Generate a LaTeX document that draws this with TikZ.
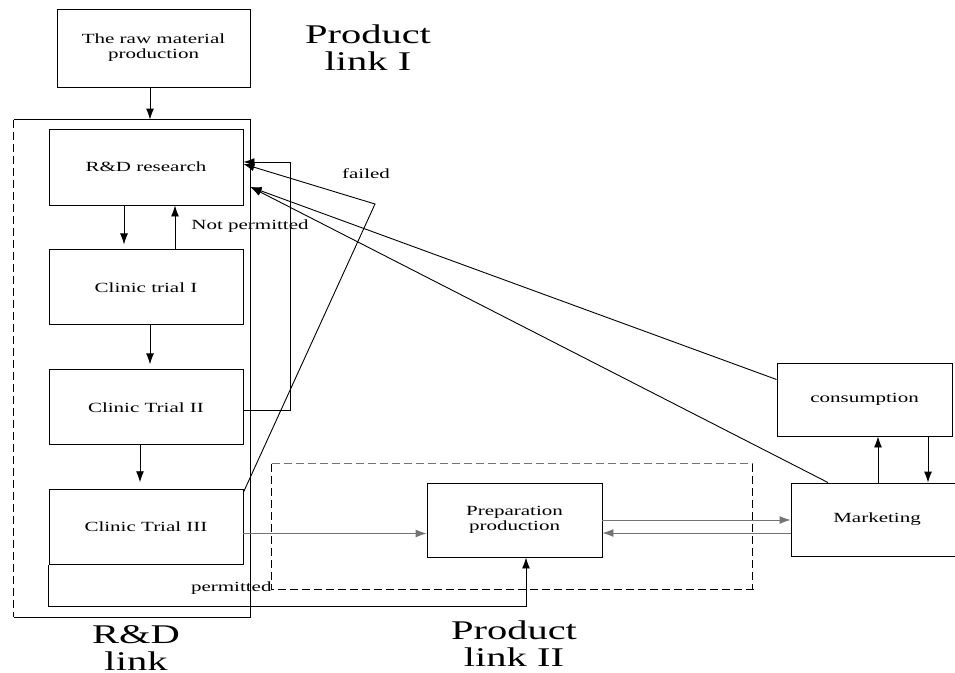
\documentclass[tikz,border=0pt]{standalone}
\usepackage{fontspec}
\setmainfont{Liberation Serif}[FakeStretch=1.5]
\usetikzlibrary{positioning,arrows.meta}
\begin{document}
\begin{tikzpicture}[x=1pt,y=-1pt,>={Latex[length=11pt,width=8pt]},line width=0.9pt,
    box/.style={draw,rectangle,inner sep=0pt,minimum width=194pt,minimum height=75pt,align=center,font=\fontsize{14}{15}\selectfont},
    frame/.style={rectangle,inner sep=0pt},
    link/.style={inner sep=0pt,anchor=north,align=center,font=\fontsize{27}{27}\selectfont},
    note/.style={inner sep=1pt,font=\fontsize{14}{15}\selectfont},
    dim/.style={draw=black!55},
    dashline/.style={dash pattern=on 8pt off 4pt},
    node distance=44pt]
    \useasboundingbox (0,0) rectangle (955,672);
    \node [frame,minimum width=236pt,minimum height=497pt] (rdframe) at (132,368.5) {};
    \node [frame,minimum width=480pt,minimum height=125pt] (prodframe) at (512,526.5) {};
    \node [box,minimum width=193pt,minimum height=78pt] (raw) at (153.5,48) {The raw material\\production};
    \node [box,minimum height=76pt] (rd) at (146,167) {R\&D research};
    \node [box,below=of rd] (ct1) {Clinic trial I};
    \node [box,below=of ct1] (ct2) {Clinic Trial II};
    \node [box,below=of ct2] (ct3) {Clinic Trial III};
    \node [box,minimum width=175pt,minimum height=74pt] (prep) at (514.5,520) {Preparation\\production};
    \node [box,minimum width=175pt,minimum height=73pt] (cons) at (864.5,399.5) {consumption};
    \node [box,minimum width=172pt,minimum height=73pt] (mkt) at (877,519.5) {Marketing};
    \node [link] (linkI) at (368,24) {Product\\link I};
    \node [link] (linkRD) at (136,625) {R\&D\\link};
    \node [link] (linkII) at (514,620) {Product\\link II};
    \node [note] (failed) at (366,174) {failed};
    \node [note] (notperm) at (250,226) {Not permitted};
    \node [note,anchor=east] (perm) at (273,588) {permitted};
    \draw [dashline] (rdframe.north west) -- (rdframe.south west);
    \draw (rdframe.north west) -- (rdframe.north east) -- (rdframe.south east) -- (rdframe.south west);
    \draw [dim,dashline] (prodframe.north west) -- (prodframe.north east);
    \draw [dashline] (prodframe.north east) -- (prodframe.south east);
    \draw [dashline] (prodframe.north west) -- (prodframe.south west) -- ([xshift=5pt]prodframe.south east);
    \coordinate (rawout) at ([xshift=-3.5pt]raw.south);
    \coordinate (rddown) at ([xshift=-22pt]rd.south);
    \coordinate (ct1up) at ([xshift=29pt]ct1.north);
    \coordinate (ct1down) at ([xshift=4pt]ct1.south);
    \coordinate (ct2down) at ([xshift=-6pt]ct2.south);
    \coordinate (loopin) at ([yshift=5pt]rd.east);
    \coordinate (failbend) at (375,204);
    \coordinate (rdin) at ([shift={(7pt,-20pt)}]rd.east);
    \coordinate (mktup) at ([xshift=1pt]mkt.north);
    \coordinate (consdown) at ([xshift=63.5pt]cons.south);
    \coordinate (mktback) at ([yshift=-13.5pt]mkt.west);
    \coordinate (prepin) at ([yshift=-13.5pt]prep.west);
    \coordinate (prepup) at ([xshift=11.5pt]prep.south);
    \draw [->] (rawout) -- (rawout |- rdframe.north);
    \draw [->,shorten >=5pt] (rddown) -- (rddown |- ct1.north);
    \draw [->] (ct1up) -- (ct1up |- rd.south);
    \draw [->,shorten >=5pt] (ct1down) -- (ct1down |- ct2.north);
    \draw [->,shorten >=7pt] (ct2down) -- (ct2down |- ct3.north);
    \draw [->] ([yshift=-3.5pt]ct2.east) -- ++(47,0) |- (loopin);
    \draw [->] ([yshift=-3pt]ct3.north east) -- (failbend) -- ([yshift=3pt]rd.east);
    \draw [->] ([yshift=20pt]cons.west) -- (rdin);
    \draw [->] ([xshift=-49pt]mkt.north) -- (rdin);
    \draw [->] (mktup) -- (mktup |- cons.south);
    \draw [->] (consdown) -- (consdown |- mkt.north);
    \draw [->,dim] (prep.east) -- (prep.east -| mkt.west);
    \draw [->,dim] (mktback) -- (mktback -| prep.east);
    \draw [->,dim] (ct3.east |- prepin) -- (prepin);
    \draw [->] (ct3.south west) -- ++(0,41) -| (prepup);
\end{tikzpicture}
\end{document}
